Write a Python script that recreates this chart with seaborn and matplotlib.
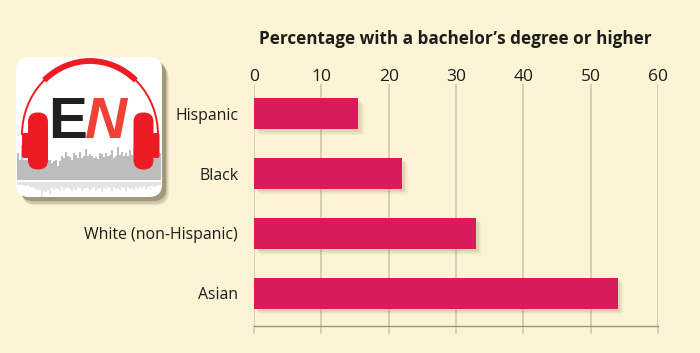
import matplotlib
matplotlib.use("Agg")
import matplotlib.pyplot as plt
import matplotlib.patheffects as pe
from matplotlib.patches import FancyBboxPatch, Arc
import pandas as pd
import seaborn as sns

groups = ["Hispanic", "Black", "White (non-Hispanic)", "Asian"]
values = [15.5, 22.0, 33.0, 54.0]
ticks = [0, 10, 20, 30, 40, 50, 60]
title = "Percentage with a bachelor\u2019s degree or higher"
wave_up = [27,20,35,20,20,20,20,20,20,19,20,22,33,20,22,20,20,17,19,20,14,19,24,22,28,24,23,20,27,25,
           22,28,22,24,31,24,26,24,22,23,21,27,26,23,27,24,25,30,22,24,33,25,28,24,27,24,30,25,33,24,
           27,24,28,25,33,22,20,23,25,26,35,27]
wave_dn = [3,3,3,4,4,3,5,5,6,7,8,8,15,9,10,8,12,6,8,6,7,9,5,8,6,5,7,9,7,8,
           5,6,9,7,6,6,8,7,5,9,7,6,10,6,7,5,6,9,5,7,6,8,5,6,9,5,7,6,8,5,
           7,5,6,4,7,5,4,4,5,4,3,3]

W, H = 700, 353
BG = "#fdf4d5"
sns.set_theme(style="white", rc={"figure.facecolor": BG, "axes.facecolor": BG})
plt.rcParams["font.family"] = ["Open Sans", "DejaVu Sans"]

fig = plt.figure(figsize=(W / 100, H / 100), dpi=100)
ax = fig.add_axes([254 / W, 1 - 325.5 / H, (658 - 254) / W, (325.5 - 84) / H])
df = pd.DataFrame({"group": groups, "value": values})
sns.barplot(data=df, x="value", y="group", order=groups, color="#d91b5c", saturation=1,
            width=0.52, ax=ax, zorder=3)
for p in ax.patches:
    p.set_edgecolor("none")
    p.set_linewidth(0)
    p.set_path_effects([
        pe.SimplePatchShadow(offset=(4, -4), shadow_rgbFace="#8a7a50", alpha=0.06),
        pe.SimplePatchShadow(offset=(3, -3), shadow_rgbFace="#8a7a50", alpha=0.09),
        pe.SimplePatchShadow(offset=(2, -2), shadow_rgbFace="#8a7a50", alpha=0.12),
        pe.Normal()])
ax.set_xlim(0, 60)
ax.set_ylim(3.54, -0.5)
ax.set_xticks(ticks)
ax.set_xticklabels([str(t) for t in ticks])
ax.set_xlabel("")
ax.set_ylabel("")
ax.grid(False)
for t in ticks:
    ax.axvline(t, color="#cfc8a9", lw=1.2, zorder=1)
for s in ["top", "right", "left"]:
    ax.spines[s].set_visible(False)
ax.spines["bottom"].set_color("#9c9582")
ax.spines["bottom"].set_linewidth(1.0)
ax.tick_params(axis="x", which="both", top=True, bottom=True, labeltop=True, labelbottom=False,
               length=0, pad=-1, labelsize=12.5, labelcolor="#1c1c1c")
ax.tick_params(axis="y", length=0, pad=15, labelsize=11.4, labelcolor="#1c1c1c")
for lab in ax.get_yticklabels():
    lab.set_transform(lab.get_transform() + matplotlib.transforms.ScaledTranslation(5 / 100, 0, fig.dpi_scale_trans))
for t in ticks:
    ax.plot([t, t], [0, -0.03], transform=ax.get_xaxis_transform(), color="#cfc8a9",
            lw=1.2, clip_on=False, zorder=1)

fig.text(455 / W, 1 - 39 / H, title, ha="center", va="center", fontsize=12.3, fontweight="bold",
         color="#1c1c1c")

# Podcast logo, in pixel coordinates
lg = fig.add_axes([0, 0, 1, 1], zorder=5)
lg.set_xlim(0, W)
lg.set_ylim(H, 0)
lg.axis("off")
lg.patch.set_alpha(0)
box = FancyBboxPatch((28, 69), 122, 116, boxstyle="round,pad=12,rounding_size=13",
                     fc="white", ec="none", zorder=2,
                     path_effects=[
                         pe.SimplePatchShadow(offset=(5, -6), shadow_rgbFace="#443a20", alpha=0.10),
                         pe.SimplePatchShadow(offset=(4, -5), shadow_rgbFace="#443a20", alpha=0.16),
                         pe.SimplePatchShadow(offset=(3, -3), shadow_rgbFace="#443a20", alpha=0.32),
                         pe.Normal()])
lg.add_patch(box)
x0 = 17.5
lg.vlines([x0 + 2 * i for i in range(len(wave_up))], [180 - v for v in wave_up], 180,
          color="#a9a9a9", lw=1.1, zorder=3)
lg.vlines([x0 + 2 * i for i in range(len(wave_dn))], 181.5, [181.5 + v for v in wave_dn],
          color="#dcdcdc", lw=1.1, zorder=3)
RED = "#ed1c24"
lg.add_patch(Arc((90, 135), 136, 148, theta1=180, theta2=360, color=RED, lw=1.4, zorder=4))
lg.add_patch(Arc((90, 135), 136, 148, theta1=230, theta2=310, color=RED, lw=4.2, zorder=4))
for x, w in [(22, 7), (153, 6.5)]:
    lg.add_patch(FancyBboxPatch((x + 1, 134), w - 2, 23, boxstyle="round,pad=1,rounding_size=2",
                                fc=RED, ec="none", zorder=5))
for x in [28, 133.5]:
    lg.add_patch(FancyBboxPatch((x + 9.5, 122), 1, 38, boxstyle="round,pad=9.5,rounding_size=9.5",
                                fc=RED, ec="none", zorder=5))
lg.text(68, 138, "E", ha="center", va="baseline", fontsize=42, fontweight="bold",
        family=["Liberation Sans Narrow", "Liberation Sans"], color="#231f20", zorder=6)
lg.text(106, 138, "N", ha="center", va="baseline", fontsize=42, fontweight="bold", style="italic",
        family="Liberation Sans", color="#f04137", zorder=6)

fig.savefig("out.png", dpi=100, facecolor=BG)
